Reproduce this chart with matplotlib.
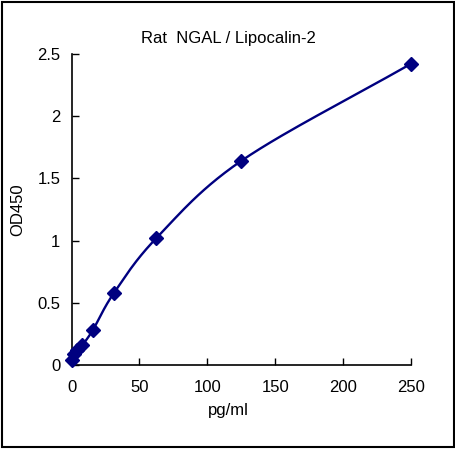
import numpy as np
import matplotlib.pyplot as plt
from matplotlib.patches import Rectangle

plt.rcParams['font.family'] = ['Liberation Sans', 'DejaVu Sans']

conc = [0, 1.95, 3.9, 7.8, 15.6, 31.25, 62.5, 125, 250]
od = [0.04, 0.09, 0.12, 0.16, 0.28, 0.58, 1.02, 1.64, 2.42]
xticks = [0, 50, 100, 150, 200, 250]
yticks = [0, 0.5, 1, 1.5, 2, 2.5]
yticklabels = ['0', '0.5', '1', '1.5', '2', '2.5']


def smooth(x, y, n=30):
    # catmull-rom through the points, like Excel's smoothed line
    x = np.asarray(x, float)
    y = np.asarray(y, float)
    px = np.concatenate([[2 * x[0] - x[1]], x, [2 * x[-1] - x[-2]]])
    py = np.concatenate([[2 * y[0] - y[1]], y, [2 * y[-1] - y[-2]]])
    t = np.linspace(0, 1, n)
    xs, ys = [], []
    for i in range(1, len(px) - 2):
        for p, out in ((px, xs), (py, ys)):
            p0, p1, p2, p3 = p[i - 1], p[i], p[i + 1], p[i + 2]
            out.append(0.5 * (2 * p1 + (-p0 + p2) * t
                              + (2 * p0 - 5 * p1 + 4 * p2 - p3) * t ** 2
                              + (-p0 + 3 * p1 - 3 * p2 + p3) * t ** 3))
    return np.concatenate(xs), np.concatenate(ys)


fig = plt.figure(figsize=(4.56, 4.49), dpi=100)
ax = fig.add_axes([0.157, 0.187, 0.744, 0.693])

sx, sy = smooth(conc, od)
ax.plot(sx, sy, color='#000080', lw=1.7, zorder=2, clip_on=False)
ax.plot(conc, od, 'D', color='#000080', markersize=6.8, zorder=3, clip_on=False)

ax.set_xlim(0, 250)
ax.set_ylim(0, 2.5)
ax.set_xticks(xticks)
ax.set_yticks(yticks)
ax.set_yticklabels(yticklabels)
ax.tick_params(direction='in', length=5, width=1, labelsize=12, color='black')
ax.tick_params(axis='x', pad=11)
ax.tick_params(axis='y', pad=8)
for s in ['top', 'right']:
    ax.spines[s].set_visible(False)
for s in ['left', 'bottom']:
    ax.spines[s].set_linewidth(1.2)

fig.text(0.5, 1 - 38 / 449, 'Rat  NGAL / Lipocalin-2', ha='center', va='center', fontsize=12)
fig.text(0.5, 1 - 410 / 449, 'pg/ml', ha='center', va='center', fontsize=12)
fig.text(18 / 456, 1 - 210 / 449, 'OD450', ha='center', va='center', rotation=90, fontsize=12)

fig.patches.append(Rectangle((0.004, 0.004), 0.992, 0.992, transform=fig.transFigure,
                             fill=False, edgecolor='black', lw=1.5))

fig.savefig('out.png', dpi=100)
